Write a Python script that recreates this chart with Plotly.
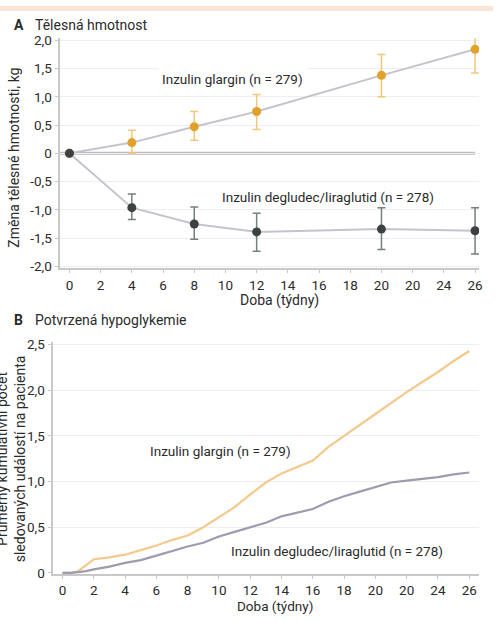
import plotly.graph_objects as go

W, H = 497, 622

# ---- Panel A data: body weight change (kg) ----
weeks_a = [0, 4, 8, 12, 20, 26]
glargin_a = [0, 0.19, 0.47, 0.74, 1.38, 1.84]
glargin_a_hi = [0, 0.41, 0.74, 1.04, 1.75, 2.24]
glargin_a_lo = [0, 0.0, 0.23, 0.42, 1.00, 1.42]
degludec_a = [0, -0.96, -1.25, -1.39, -1.34, -1.37]
degludec_a_hi = [0, -0.72, -0.95, -1.06, -0.96, -0.96]
degludec_a_lo = [0, -1.17, -1.52, -1.73, -1.70, -1.78]

# ---- Panel B data: mean cumulative confirmed hypoglycaemia events ----
weeks_b = [0, 0.5, 1, 1.5, 2, 3, 4, 5, 6, 7, 8, 9, 10, 11, 12, 13, 14, 15, 16,
           17, 18, 19, 20, 21, 22, 23, 24, 25, 26]
glargin_b = [0, 0.0, 0.02, 0.08, 0.15, 0.17, 0.20, 0.25, 0.30, 0.36, 0.41, 0.50,
             0.61, 0.72, 0.86, 0.99, 1.09, 1.16, 1.23, 1.38, 1.50, 1.63, 1.74,
             1.86, 1.98, 2.09, 2.20, 2.32, 2.43]
degludec_b = [0, 0, 0.01, 0.02, 0.04, 0.07, 0.11, 0.14, 0.19, 0.24, 0.29, 0.33,
              0.40, 0.45, 0.50, 0.55, 0.62, 0.66, 0.70, 0.78, 0.84, 0.89, 0.94,
              0.99, 1.01, 1.03, 1.05, 1.08, 1.10]

x_tickvals = [0, 2, 4, 6, 8, 10, 12, 14, 16, 18, 20, 22, 24, 26]
x_ticktext = ["0", "2", "4", "6", "8", "10", "12", "14", "16", "18", "20", "20", "24", "26"]
ya_tickvals = [-2, -1.5, -1, -0.5, 0, 0.5, 1, 1.5, 2]
ya_ticktext = ["-2,0", "-1,5", "-1,0", "-0,5", "0", "0,5", "1,0", "1,5", "2,0"]
yb_tickvals = [0, 0.5, 1, 1.5, 2, 2.5]
yb_ticktext = ["0", "0,5", "1,0", "1,5", "2,0", "2,5"]

FONT = "Roboto, 'DejaVu Sans', sans-serif"
TXT = "#2b2b2b"


def px(x):
    return x / W


def py(y):
    return 1 - y / H


fig = go.Figure()

# Panel A
fig.add_trace(go.Scatter(
    x=weeks_a, y=glargin_a, mode="lines+markers", xaxis="x", yaxis="y",
    line=dict(color="#c4c4cc", width=2),
    marker=dict(color="#e2a12a", size=9),
    error_y=dict(type="data", symmetric=False,
                 array=[h - v for h, v in zip(glargin_a_hi, glargin_a)],
                 arrayminus=[v - l for v, l in zip(glargin_a, glargin_a_lo)],
                 color="#f3c77a", thickness=1.5, width=4),
    showlegend=False, hoverinfo="skip"))
fig.add_trace(go.Scatter(
    x=weeks_a, y=degludec_a, mode="lines+markers", xaxis="x", yaxis="y",
    line=dict(color="#c4c4cc", width=2),
    marker=dict(color="#3b4241", size=9),
    error_y=dict(type="data", symmetric=False,
                 array=[h - v for h, v in zip(degludec_a_hi, degludec_a)],
                 arrayminus=[v - l for v, l in zip(degludec_a, degludec_a_lo)],
                 color="#75807f", thickness=1.5, width=4),
    showlegend=False, hoverinfo="skip"))

# Panel B
fig.add_trace(go.Scatter(
    x=weeks_b, y=glargin_b, mode="lines", xaxis="x2", yaxis="y2",
    line=dict(color="#f3c98c", width=2.2), showlegend=False, hoverinfo="skip"))
fig.add_trace(go.Scatter(
    x=weeks_b, y=degludec_b, mode="lines", xaxis="x2", yaxis="y2",
    line=dict(color="#9c9cb0", width=2.2), showlegend=False, hoverinfo="skip"))

axis_common = dict(tickfont=dict(size=13.5, color=TXT, family=FONT),
                   ticks="outside", ticklen=3, tickcolor="#c8c8c8",
                   showline=True, linecolor="#c8c8c8", linewidth=2,
                   zeroline=False, fixedrange=True)

fig.update_layout(
    width=W, height=H,
    margin=dict(l=0, r=0, t=0, b=0),
    paper_bgcolor="white", plot_bgcolor="white",
    font=dict(family=FONT, size=14, color=TXT),
    xaxis=dict(domain=[px(60), px(483)], range=[-0.636, 26.26], anchor="y",
               tickvals=x_tickvals, ticktext=x_ticktext, showgrid=False,
               **axis_common),
    yaxis=dict(domain=[py(268), py(33)], range=[-2.035, 2.035], anchor="x",
               tickvals=ya_tickvals, ticktext=ya_ticktext,
               showgrid=True, gridcolor="#eeeeee", gridwidth=1,
               **axis_common),
    xaxis2=dict(domain=[px(53), px(483)], range=[-0.634, 26.63], anchor="y2",
                tickvals=x_tickvals, ticktext=x_ticktext, showgrid=False,
                **axis_common),
    yaxis2=dict(domain=[py(580), py(343)], range=[-0.01, 2.53], anchor="x2",
                tickvals=yb_tickvals, ticktext=yb_ticktext,
                showgrid=True, gridcolor="#eeeeee", gridwidth=1,
                **axis_common),
)

# zero line in panel A
fig.add_shape(type="line", xref="x", yref="y", x0=-0.636, x1=26.0, y0=0, y1=0,
              line=dict(color="#bdbdbd", width=3), layer="below")
# peach header band
fig.add_shape(type="rect", xref="paper", yref="paper", x0=0, x1=1,
              y0=py(5), y1=1, fillcolor="#fbe4d5", line=dict(width=0))

ann = []


def text(x, y, s, size=14, xanchor="center", angle=0, bg=None, pad=0):
    d = dict(x=px(x), y=py(y), xref="paper", yref="paper", text=s,
             showarrow=False, xanchor=xanchor, yanchor="middle",
             textangle=angle, font=dict(size=size, color=TXT, family=FONT))
    if bg:
        d.update(bgcolor=bg, borderpad=pad)
    ann.append(d)


text(12, 19, "<b>A</b>", xanchor="left")
text(33, 19, "Tělesná hmotnost", xanchor="left")
text(12, 321, "<b>B</b>", xanchor="left")
text(33, 321, "Potvrzená hypoglykemie", xanchor="left")
text(14, 155, "Změna tělesné hmotnosti, kg", angle=-90)
text(11, 462, "Průměrný kumulativní počet<br>sledovaných událostí na pacienta", angle=-90)
text(234, 75, "Inzulin glargin (n = 279)", size=13.5, bg="white", pad=3)
text(331, 195, "Inzulin degludec/liraglutid (n = 278)", size=13.5)
text(222, 455, "Inzulin glargin (n = 279)", size=13.5, bg="white", pad=3)
text(340, 557, "Inzulin degludec/liraglutid (n = 278)", size=13.5)
text(282, 301, "Doba (týdny)")
text(277, 613, "Doba (týdny)", size=13.5)

fig.update_layout(annotations=ann)

fig.write_html(
    "out.html",
    config=dict(displayModeBar=False),
    post_script="document.body.style.margin='0';document.body.style.padding='0';",
)
